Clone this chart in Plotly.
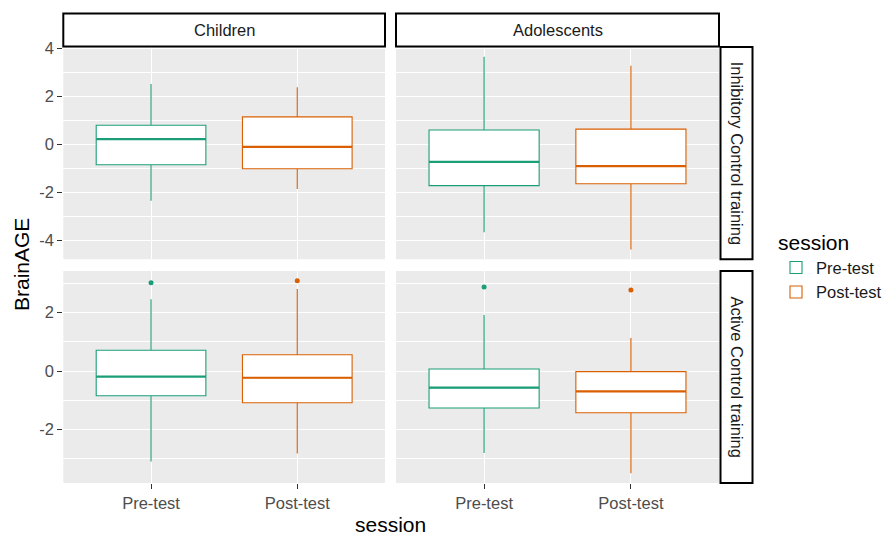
import plotly.graph_objects as go

# ---- data (panel order: IC-Children, IC-Adolescents, AC-Children, AC-Adolescents)
groups = ["Children", "Adolescents"]
trainings = ["Inhibitory Control training", "Active Control training"]
sessions = ["Pre-test", "Post-test"]

pre_lower = [-2.34, -3.65, -3.10, -2.81]
pre_q1 = [-0.84, -1.71, -0.85, -1.27]
pre_median = [0.22, -0.72, -0.19, -0.57]
pre_q3 = [0.80, 0.60, 0.71, 0.07]
pre_upper = [2.52, 3.65, 2.46, 1.92]
pre_outliers = [[], [], [3.03], [2.88]]

post_lower = [-1.85, -4.37, -2.83, -3.51]
post_q1 = [-1.01, -1.63, -1.09, -1.43]
post_median = [-0.10, -0.90, -0.23, -0.70]
post_q3 = [1.15, 0.64, 0.56, -0.02]
post_upper = [2.38, 3.28, 2.81, 1.13]
post_outliers = [[], [], [3.10], [2.78]]

# y tick values / labels per facet row
top_ticks = [-4, -2, 0, 2, 4]
top_tick_labels = ["-4", "-2", "0", "2", "4"]
bottom_ticks = [-2, 0, 2]
bottom_tick_labels = ["-2", "0", "2"]

colors = {"Pre-test": "#1B9E77", "Post-test": "#D95F02"}
stats = {
    "Pre-test": (pre_lower, pre_q1, pre_median, pre_q3, pre_upper, pre_outliers),
    "Post-test": (post_lower, post_q1, post_median, post_q3, post_upper, post_outliers),
}
row_ticks = [(top_ticks, top_tick_labels), (bottom_ticks, bottom_tick_labels)]

W, H = 890, 536
BOX_W = 0.75
FONT = "Liberation Sans, Arial, sans-serif"


def px_x(p):
    return p / W


def px_y(p):
    return 1 - p / H


col_px = [(63.3, 385.0), (396.0, 719.0)]
row_px = [(47.1, 259.2), (271.0, 483.0)]

fig = go.Figure()

for p in range(4):
    r, c = divmod(p, 2)
    ax = "" if p == 0 else str(p + 1)
    for si, s in enumerate(sessions):
        lo, q1, med, q3, up, outl = stats[s]
        xv = si + 1
        col = colors[s]
        fig.add_trace(go.Box(
            x=[xv], q1=[q1[p]], median=[med[p]], q3=[q3[p]],
            lowerfence=[lo[p]], upperfence=[up[p]],
            width=BOX_W, whiskerwidth=0, boxpoints=False,
            fillcolor="white", line=dict(color=col, width=1.1),
            name=s, legendgroup=s, showlegend=(p == 0),
            xaxis="x" + ax, yaxis="y" + ax, hoverinfo="skip",
        ))
        fig.add_trace(go.Scatter(
            x=[xv - BOX_W / 2, xv + BOX_W / 2], y=[med[p], med[p]],
            mode="lines", line=dict(color=col, width=2.2),
            showlegend=False, xaxis="x" + ax, yaxis="y" + ax, hoverinfo="skip",
        ))
        if outl[p]:
            fig.add_trace(go.Scatter(
                x=[xv] * len(outl[p]), y=outl[p], mode="markers",
                marker=dict(color=col, size=5),
                showlegend=False, xaxis="x" + ax, yaxis="y" + ax, hoverinfo="skip",
            ))


def yrange(idx):
    vals = []
    for s in sessions:
        lo, q1, med, q3, up, outl = stats[s]
        for p in idx:
            vals += [lo[p], up[p]] + outl[p]
    mn, mx = min(vals), max(vals)
    e = (mx - mn) * 0.05
    return [mn - e, mx + e]


yr = [yrange([0, 1]), yrange([2, 3])]

tickfont = dict(family=FONT, size=16.5, color="#4D4D4D")
layout = dict(
    width=W, height=H, margin=dict(l=0, r=0, t=0, b=0, pad=0), autosize=False,
    paper_bgcolor="white", plot_bgcolor="#EBEBEB",
    font=dict(family=FONT, color="#1A1A1A"),
    legend=dict(
        x=px_x(776), y=px_y(223), xanchor="left", yanchor="top",
        title=dict(text="session", font=dict(size=21, color="#000000")),
        font=dict(size=16.5, color="#1A1A1A"), tracegroupgap=0, itemwidth=30,
    ),
    shapes=[], annotations=[],
)

for p in range(4):
    r, c = divmod(p, 2)
    key = "" if p == 0 else str(p + 1)
    layout["xaxis" + key] = dict(
        domain=[px_x(col_px[c][0]), px_x(col_px[c][1])],
        range=[0.4, 2.6], tickvals=[1, 2], ticktext=sessions,
        showticklabels=(r == 1), ticks="outside" if r == 1 else "",
        ticklen=5, tickcolor="#333333", tickwidth=1,
        showgrid=True, gridcolor="white", gridwidth=1.1,
        zeroline=False, showline=False, tickfont=tickfont,
        anchor="y" + key, fixedrange=True, automargin=False,
    )
    tv, tt = row_ticks[r]
    layout["yaxis" + key] = dict(
        domain=[px_y(row_px[r][1]), px_y(row_px[r][0])],
        range=yr[r], tickmode="array", tickvals=tv, ticktext=tt,
        showticklabels=(c == 0), ticks="outside" if c == 0 else "",
        ticklen=5, tickcolor="#333333", tickwidth=1,
        showgrid=True, gridcolor="white", gridwidth=1.1,
        minor=dict(dtick=1, tick0=0, showgrid=True, gridcolor="white", gridwidth=0.5),
        zeroline=False, showline=False, tickfont=tickfont,
        anchor="x" + key, fixedrange=True, automargin=False,
    )

# strips
for c, g in enumerate(groups):
    x0, x1 = col_px[c]
    layout["shapes"].append(dict(
        type="rect", xref="paper", yref="paper",
        x0=px_x(x0), x1=px_x(x1), y0=px_y(46.5), y1=px_y(13.5),
        fillcolor="white", line=dict(color="black", width=2), layer="above",
    ))
    layout["annotations"].append(dict(
        text=g, xref="paper", yref="paper", x=px_x((x0 + x1) / 2), y=px_y(30),
        showarrow=False, font=dict(size=16.5, color="#1A1A1A"),
        xanchor="center", yanchor="middle",
    ))
for r, t in enumerate(trainings):
    y0, y1 = row_px[r]
    layout["shapes"].append(dict(
        type="rect", xref="paper", yref="paper",
        x0=px_x(720.5), x1=px_x(752.5), y0=px_y(y1), y1=px_y(y0),
        fillcolor="white", line=dict(color="black", width=2), layer="above",
    ))
    layout["annotations"].append(dict(
        text=t, xref="paper", yref="paper", x=px_x(736.5), y=px_y((y0 + y1) / 2),
        showarrow=False, textangle=90, font=dict(size=16.5, color="#1A1A1A"),
        xanchor="center", yanchor="middle",
    ))

layout["annotations"].append(dict(
    text="BrainAGE", xref="paper", yref="paper", x=px_x(21), y=px_y(265),
    showarrow=False, textangle=-90, font=dict(size=21, color="#000000"),
    xanchor="center", yanchor="middle",
))
layout["annotations"].append(dict(
    text="session", xref="paper", yref="paper", x=px_x(390), y=px_y(524),
    showarrow=False, font=dict(size=21, color="#000000"),
    xanchor="center", yanchor="middle",
))

fig.update_layout(**layout)
fig.write_html(
    "out.html",
    config={"displayModeBar": False},
    post_script="document.body.style.margin='0';document.body.style.overflow='hidden';",
)
